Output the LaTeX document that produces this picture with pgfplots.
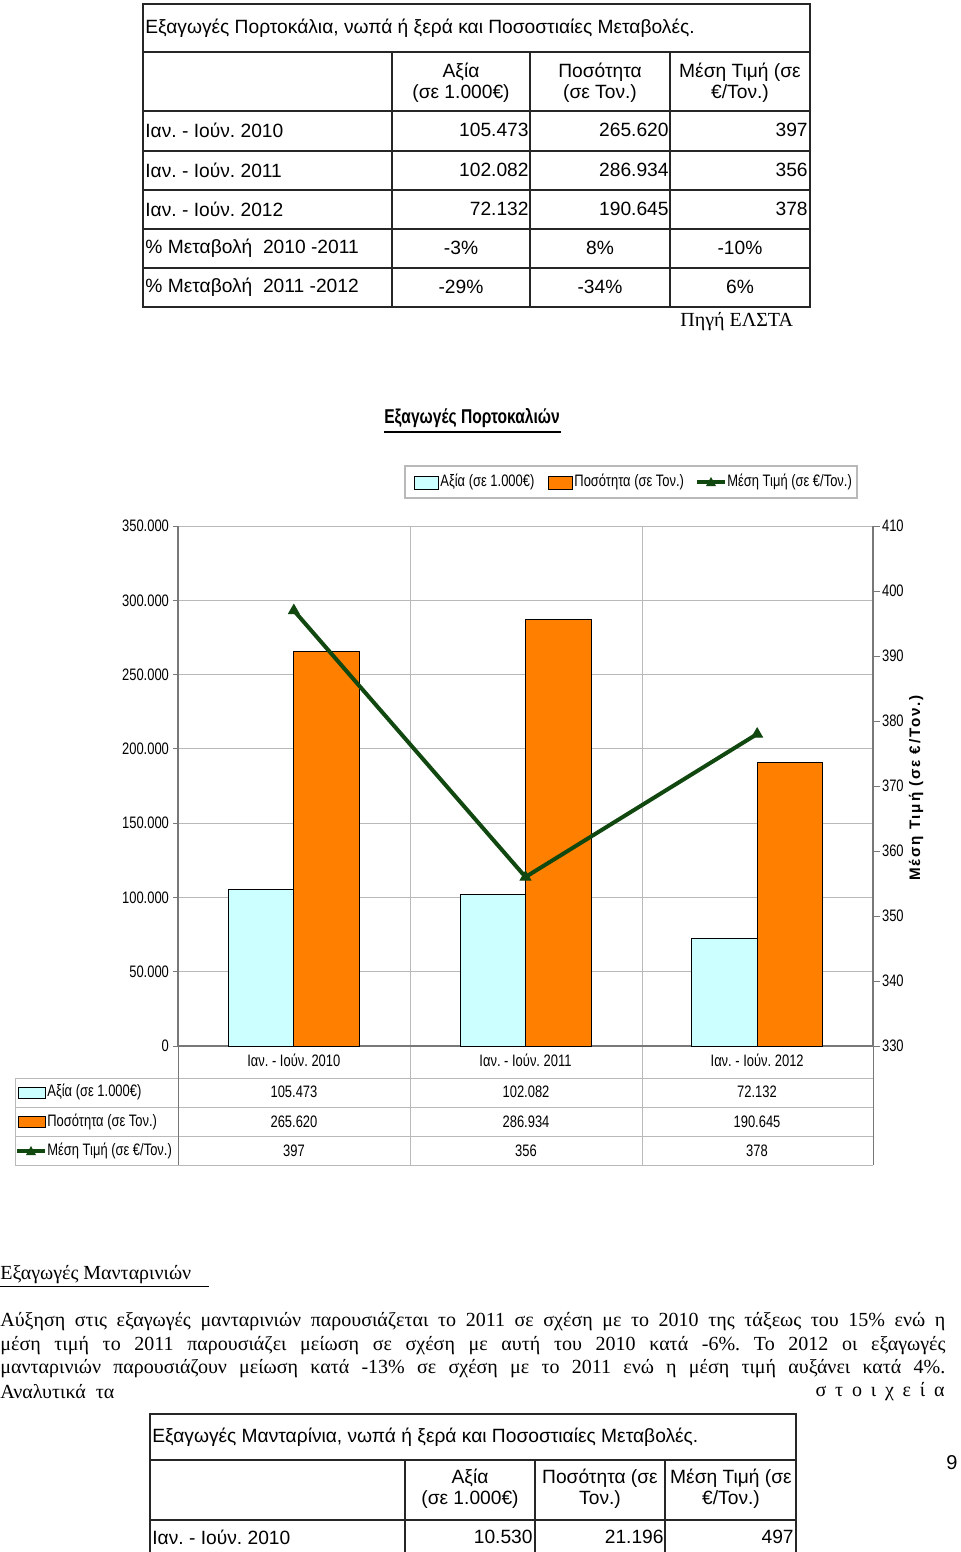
\documentclass[border=0pt]{standalone}
\usepackage{fontspec}
\setmainfont{Liberation Sans}
\newfontfamily\narrow[FakeStretch=0.78]{Liberation Sans}
\newfontfamily\spaced[LetterSpace=12]{Liberation Sans}
\newfontfamily\tms{Liberation Serif}
\usepackage{pgfplots}
\pgfplotsset{compat=1.18}
\frenchspacing

\definecolor{barcyan}{RGB}{204,255,255}
\definecolor{barorange}{RGB}{255,128,0}
\definecolor{linegreen}{RGB}{16,72,16}
\definecolor{gridgray}{RGB}{185,185,185}
\definecolor{axisgray}{RGB}{120,120,120}

\newcommand{\tb}{\fontsize{9.6}{11.5}\selectfont}
\newcommand{\ch}{\narrow\fontsize{8.3}{10}\selectfont}
\newcommand{\tm}{\tms\fontsize{10}{12}\selectfont}

\begin{document}
\begin{tikzpicture}[x=0.5pt,y=-0.5pt]
\path[use as bounding box] (0,0) rectangle (960,1552);

% ---- top table
\begin{scope}[line width=0.6pt, draw=black!85]
  \draw (143,4) rectangle (810,307);
  \foreach \y in {52,111,151,190,229,268} \draw (143,\y) -- (810,\y);
  \foreach \x in {392,530,670} \draw (\x,52) -- (\x,307);
\end{scope}
\begin{scope}[every node/.style={font=\tb, inner sep=0pt}]
  \node[anchor=west] at (145,28) {Εξαγωγές Πορτοκάλια, νωπά ή ξερά και Ποσοστιαίες Μεταβολές.};
  \node at (461,72) {Αξία};      \node at (461,94) {(σε 1.000€)};
  \node at (600,72) {Ποσότητα};  \node at (600,94) {(σε Τον.)};
  \node at (740,72) {Μέση Τιμή (σε}; \node at (740,94) {€/Τον.)};
  \node[anchor=west] at (145,130) {Ιαν. - Ιούν. 2010};
  \node[anchor=west] at (145,170) {Ιαν. - Ιούν. 2011};
  \node[anchor=west] at (145,209) {Ιαν. - Ιούν. 2012};
  \node[anchor=west] at (145,248) {\% Μεταβολή\ \ 2010 -2011};
  \node[anchor=west] at (145,287) {\% Μεταβολή\ \ 2011 -2012};
  \node[anchor=east] at (529,130) {105.473};
  \node[anchor=east] at (669,130) {265.620};
  \node[anchor=east] at (808,130) {397};
  \node[anchor=east] at (529,170) {102.082};
  \node[anchor=east] at (669,170) {286.934};
  \node[anchor=east] at (808,170) {356};
  \node[anchor=east] at (529,209) {72.132};
  \node[anchor=east] at (669,209) {190.645};
  \node[anchor=east] at (808,209) {378};
  \node at (461,248) {-3\%};  \node at (600,248) {8\%};   \node at (740,248) {-10\%};
  \node at (461,287) {-29\%}; \node at (600,287) {-34\%}; \node at (740,287) {6\%};
\end{scope}
\node[anchor=west, font=\tm, inner sep=0pt] at (680,322) {Πηγή ΕΛΣΤΑ};

% ---- chart title and legend
\node[font=\narrow\bfseries\fontsize{10}{12}\selectfont, inner sep=0pt] at (472,418) {Εξαγωγές Πορτοκαλιών};
\draw[line width=1pt] (384,432) -- (561,432);
\draw[gridgray, line width=0.6pt] (405,466) rectangle (857,498);
\draw[fill=barcyan, line width=0.5pt] (414,476) rectangle (438,489);
\node[anchor=west, font=\ch, inner sep=0pt] at (440,482) {Αξία (σε 1.000€)};
\draw[fill=barorange, line width=0.5pt] (548,476) rectangle (572,489);
\node[anchor=west, font=\ch, inner sep=0pt] at (574,482) {Ποσότητα (σε Τον.)};
\draw[linegreen, line width=2pt] (697,482) -- (725,482);
\fill[linegreen] (711,477) -- (716,486) -- (706,486) -- cycle;
\node[anchor=west, font=\ch, inner sep=0pt] at (727,482) {Μέση Τιμή (σε €/Τον.)};

% ---- category separators and data table grid
\begin{scope}[gridgray, line width=0.5pt]
  \draw (410,526) -- (410,1165);
  \draw (642,526) -- (642,1165);
  \foreach \y in {1078,1107,1136,1165} \draw (15,\y) -- (873,\y);
  \draw (15,1078) -- (15,1165);
\end{scope}
\draw[axisgray, line width=0.5pt] (178,1046) -- (178,1165);
\draw[axisgray, line width=0.5pt] (873,1046) -- (873,1165);

\coordinate (A) at (178,1046);
\begin{axis}[at={(A)}, anchor=south west, scale only axis,
  width=347.5pt, height=260pt,
  xmin=0.5, xmax=3.5, ymin=0, ymax=350000,
  axis y line*=left, axis x line*=bottom,
  axis line style={draw=axisgray, line width=0.6pt, -},
  ybar=0pt, bar width=32.75pt,
  xtick={1,2,3},
  xticklabels={Ιαν. - Ιούν. 2010, Ιαν. - Ιούν. 2011, Ιαν. - Ιούν. 2012},
  x tick style={draw=none},
  xticklabel style={yshift=2pt},
  ytick={0,50000,100000,150000,200000,250000,300000,350000},
  yticklabels={0,50.000,100.000,150.000,200.000,250.000,300.000,350.000},
  yticklabel style={xshift=1.5pt},
  scaled y ticks=false,
  tick align=outside, major tick length=2.5pt,
  y tick style={draw=axisgray, line width=0.5pt},
  ymajorgrids, grid style={draw=gridgray, line width=0.5pt},
  ticklabel style={font=\ch, text=black},
  clip=false,
]
\addplot[fill=barcyan, draw=black, line width=0.5pt] coordinates {(1,105473) (2,102082) (3,72132)};
\addplot[fill=barorange, draw=black, line width=0.5pt] coordinates {(1,265620) (2,286934) (3,190645)};
\end{axis}
\begin{axis}[at={(A)}, anchor=south west, scale only axis,
  width=347.5pt, height=260pt,
  xmin=0.5, xmax=3.5, ymin=330, ymax=410,
  axis y line*=right, axis x line=none,
  axis line style={draw=axisgray, line width=0.6pt, -},
  ytick={330,340,350,360,370,380,390,400,410},
  yticklabels={330,340,350,360,370,380,390,400,410},
  yticklabel style={xshift=-2.5pt},
  tick align=outside, major tick length=3.5pt,
  y tick style={draw=axisgray, line width=0.5pt},
  ticklabel style={font=\ch, text=black},
  clip=false,
]
\addplot[linegreen, line width=2pt, mark=triangle*, mark size=3pt, mark options={solid, line width=0.5pt}] coordinates {(1,397) (2,356) (3,378)};
\end{axis}
\node[rotate=90, font=\spaced\bfseries\fontsize{7.6}{9}\selectfont, inner sep=0pt] at (916,788) {Μέση Τιμή (σε €/Τον.)};

% ---- data table rows
\draw[fill=barcyan, line width=0.5pt] (18,1087) rectangle (45,1098);
\draw[fill=barorange, line width=0.5pt] (18,1116) rectangle (45,1127);
\draw[linegreen, line width=2pt] (17,1151) -- (45,1151);
\fill[linegreen] (31,1146) -- (36,1155) -- (26,1155) -- cycle;
\begin{scope}[every node/.style={font=\ch, inner sep=0pt}]
  \node[anchor=west] at (47,1092) {Αξία (σε 1.000€)};
  \node[anchor=west] at (47,1122) {Ποσότητα (σε Τον.)};
  \node[anchor=west] at (47,1151) {Μέση Τιμή (σε €/Τον.)};
  \node at (294,1092) {105.473}; \node at (526,1092) {102.082}; \node at (757,1092) {72.132};
  \node at (294,1122) {265.620}; \node at (526,1122) {286.934}; \node at (757,1122) {190.645};
  \node at (294,1151) {397};     \node at (526,1151) {356};     \node at (757,1151) {378};
\end{scope}

% ---- text below
\node[anchor=west, font=\tm, inner sep=0pt] at (0,1275) {Εξαγωγές Μανταρινιών};
\draw[line width=0.5pt] (0,1286) -- (209,1286);
\begin{scope}[every node/.style={anchor=west, font=\tm, inner sep=0pt}]
  \node at (0,1322) {\makebox[472.5pt][s]{Αύξηση στις εξαγωγές μανταρινιών παρουσιάζεται το 2011 σε σχέση με το 2010 της τάξεως του 15\% ενώ η}};
  \node at (0,1346) {\makebox[472.5pt][s]{μέση τιμή το 2011 παρουσιάζει μείωση σε σχέση με αυτή του 2010 κατά -6\%. Το 2012 οι εξαγωγές}};
  \node at (0,1369) {\makebox[472.5pt][s]{μανταρινιών παρουσιάζουν μείωση κατά -13\% σε σχέση με το 2011 ενώ η μέση τιμή αυξάνει κατά 4\%.}};
  \node at (0,1392) {Αναλυτικά\ \ τα};
  \node[anchor=east] at (945,1392) {σ\hskip4.4pt τ\hskip4.4pt ο\hskip4.4pt ι\hskip4.4pt χ\hskip4.4pt ε\hskip4.4pt ί\hskip4.4pt α};
\end{scope}

% ---- bottom table
\begin{scope}[line width=0.6pt, draw=black!85]
  \draw (150,1560) -- (150,1414) -- (796,1414) -- (796,1560);
  \draw (150,1460) -- (796,1460);
  \draw (150,1520) -- (796,1520);
  \foreach \x in {405,535,665} \draw (\x,1460) -- (\x,1560);
\end{scope}
\begin{scope}[every node/.style={font=\tb, inner sep=0pt}]
  \node[anchor=west] at (152,1437) {Εξαγωγές Μανταρίνια, νωπά ή ξερά και Ποσοστιαίες Μεταβολές.};
  \node at (470,1478) {Αξία};          \node at (470,1500) {(σε 1.000€)};
  \node at (600,1478) {Ποσότητα (σε};  \node at (600,1500) {Τον.)};
  \node at (731,1478) {Μέση Τιμή (σε}; \node at (731,1500) {€/Τον.)};
  \node[anchor=west] at (152,1537) {Ιαν. - Ιούν. 2010};
  \node[anchor=east] at (533,1537) {10.530};
  \node[anchor=east] at (664,1537) {21.196};
  \node[anchor=east] at (794,1537) {497};
\end{scope}
\node[font=\fontsize{10}{12}\selectfont, inner sep=0pt] at (952,1463) {9};
\end{tikzpicture}
\end{document}
